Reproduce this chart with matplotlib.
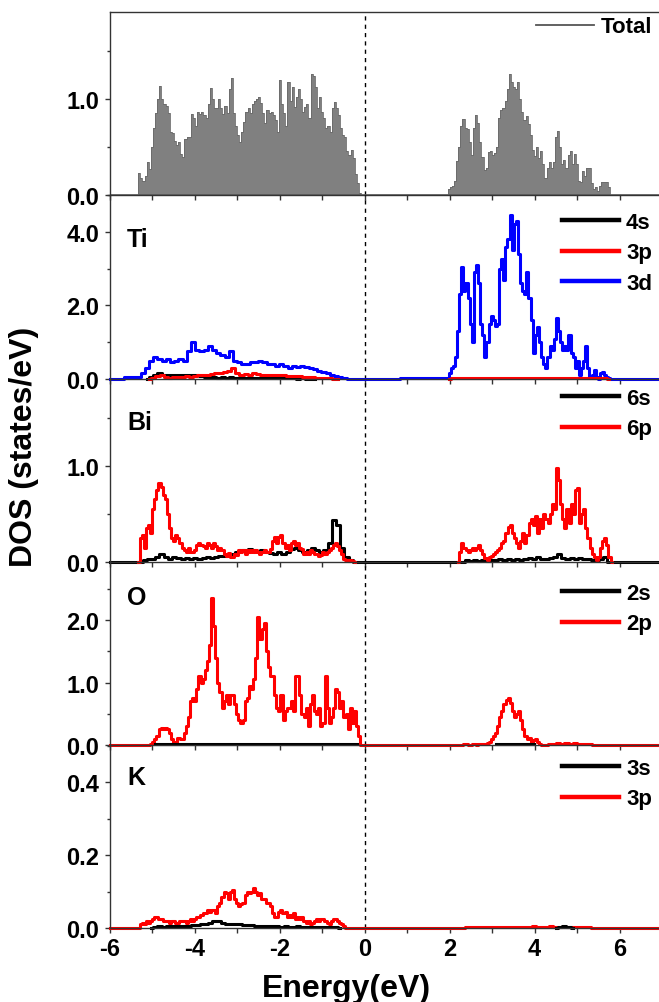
import numpy as np
import matplotlib
matplotlib.use("Agg")
import matplotlib.pyplot as plt
from matplotlib.lines import Line2D
from matplotlib.ticker import MultipleLocator, FormatStrFormatter

plt.rcParams['font.family'] = ['Liberation Sans', 'DejaVu Sans']
plt.rcParams['font.weight'] = 'bold'
plt.rcParams['axes.unicode_minus'] = False

# ---------------- data (DOS) ----------------
total_vb = [0.23,0.18,0.15,0.20,0.34,0.27,0.50,0.70,0.85,1.00,
            1.13,1.00,0.95,0.93,0.85,0.65,0.64,0.56,0.52,0.55,
            0.43,0.40,0.58,0.60,0.60,0.84,0.80,0.72,0.86,0.84,
            0.86,0.83,0.80,0.95,1.11,1.00,0.90,0.90,1.00,0.90,
            0.84,0.93,0.85,1.10,1.22,0.85,0.72,0.62,0.55,0.65,
            0.76,0.86,0.90,0.85,0.95,0.98,1.00,1.02,0.96,0.85,
            0.75,0.88,0.85,0.86,0.83,0.78,0.65,1.20,0.95,0.85,
            0.72,1.17,0.98,1.12,0.92,1.02,1.10,1.00,0.86,0.92,
            0.95,0.80,1.26,1.24,1.12,0.90,1.02,0.86,0.80,0.70,
            0.72,0.66,0.90,0.97,0.90,0.83,0.70,0.62,0.60,0.46,
            0.42,0.47,0.38,0.22,0.12,0.02]
total_cb = [0.00,0.06,0.08,0.09,0.15,0.35,0.50,0.72,0.79,0.70,
            0.69,0.55,0.42,0.70,0.83,0.75,0.55,0.40,0.26,0.28,
            0.45,0.46,0.42,0.44,0.50,0.80,0.88,0.90,0.98,1.10,
            1.26,1.18,1.12,1.10,1.17,1.00,0.86,0.78,0.82,0.74,
            0.62,0.47,0.41,0.50,0.38,0.46,0.32,0.18,0.28,0.34,
            0.28,0.34,0.60,0.67,0.50,0.32,0.36,0.28,0.42,0.46,
            0.32,0.43,0.32,0.15,0.14,0.25,0.20,0.28,0.28,0.12,
            0.06,0.08,0.04,0.09,0.13,0.13,0.13,0.08,0.00]

ti_3d_vb = [0.05,0.15,0.30,0.50,0.60,0.55,0.50,0.55,0.45,0.50,
            0.55,0.50,0.75,1.00,0.80,0.75,0.80,0.90,0.80,0.70,
            0.65,0.60,0.75,0.50,0.45,0.40,0.40,0.45,0.45,0.50,
            0.45,0.42,0.40,0.35,0.40,0.35,0.30,0.35,0.33,0.35,
            0.32,0.30,0.28,0.22,0.20,0.15,0.12,0.09,0.06,0.03,
            0.01,0.00]
ti_3d_cb = [0.02,0.15,0.30,0.35,0.60,1.30,2.30,3.05,2.40,2.60,
            2.20,1.50,1.00,2.90,3.10,2.60,1.50,1.20,0.60,1.00,
            1.50,1.70,1.60,1.45,1.50,3.00,3.25,2.70,3.60,3.80,
            4.45,3.50,4.20,4.30,3.40,2.60,2.40,2.30,2.90,2.20,
            1.60,0.70,1.20,1.40,1.00,0.60,0.40,0.30,0.60,0.90,
            0.80,1.10,1.65,1.30,1.00,0.80,0.90,0.80,1.20,0.70,
            0.60,0.30,0.50,0.10,0.30,0.50,0.90,0.30,0.05,0.10,
            0.25,0.05,0.00,0.15,0.20,0.10,0.05,0.02,0.00]
ti_4s_vb = [0.00,0.05,0.12,0.16,0.12,0.10,0.10,0.12,0.10,0.12,
            0.10,0.12,0.10,0.08,0.06,0.05,0.06,0.04,0.05,0.04,
            0.05,0.03,0.04,0.03,0.04,0.03,0.02,0.03,0.02,0.03,
            0.02,0.02,0.03,0.02,0.02,0.02,0.01,0.02,0.01,0.01,
            0.00]
ti_3p_vb = [0.00,0.03,0.08,0.10,0.05,0.04,0.05,0.06,0.06,0.08,
            0.06,0.08,0.10,0.12,0.12,0.14,0.15,0.15,0.18,0.22,
            0.30,0.15,0.12,0.14,0.12,0.15,0.14,0.12,0.12,0.10,
            0.12,0.10,0.10,0.08,0.09,0.08,0.07,0.06,0.06,0.05,
            0.04,0.03,0.02,0.02,0.01,0.00]
ti_3p_cb = [0.00,0.03,0.02,0.02,0.03,0.02,0.02,0.02,0.03,0.02,
            0.02,0.02,0.02,0.03,0.02,0.02,0.02,0.02,0.02,0.03,
            0.02,0.02,0.02,0.02,0.02,0.02,0.03,0.02,0.02,0.02,
            0.02,0.02,0.02,0.02,0.02,0.03,0.02,0.02,0.00]

bi_6p_vb = [0.00,0.25,0.28,0.15,0.35,0.38,0.30,0.55,0.65,0.75,
            0.82,0.78,0.70,0.65,0.50,0.35,0.25,0.22,0.28,0.25,
            0.20,0.15,0.12,0.10,0.15,0.10,0.10,0.12,0.18,0.20,
            0.18,0.17,0.15,0.20,0.18,0.15,0.20,0.17,0.12,0.15,
            0.12,0.08,0.06,0.09,0.05,0.05,0.08,0.07,0.12,0.10,
            0.12,0.08,0.12,0.10,0.12,0.10,0.12,0.10,0.08,0.10,
            0.12,0.10,0.10,0.14,0.22,0.26,0.20,0.26,0.28,0.20,
            0.15,0.18,0.12,0.20,0.22,0.18,0.20,0.15,0.13,0.08,
            0.10,0.08,0.12,0.10,0.08,0.08,0.06,0.07,0.10,0.08,
            0.10,0.12,0.15,0.18,0.20,0.17,0.12,0.08,0.03,0.02,
            0.01,0.02,0.01,0.00]
bi_6p_cb = [0.00,0.10,0.20,0.15,0.12,0.10,0.12,0.15,0.12,0.15,
            0.18,0.12,0.08,0.04,0.02,0.05,0.06,0.08,0.10,0.12,
            0.15,0.20,0.22,0.30,0.36,0.38,0.30,0.25,0.20,0.15,
            0.22,0.30,0.20,0.28,0.40,0.45,0.38,0.48,0.30,0.45,
            0.35,0.50,0.45,0.40,0.50,0.60,0.55,0.98,0.85,0.60,
            0.45,0.35,0.55,0.40,0.60,0.50,0.75,0.77,0.40,0.50,
            0.55,0.35,0.25,0.15,0.08,0.05,0.02,0.05,0.15,0.22,
            0.25,0.18,0.05,0.00]
bi_6s_vb = [0.00,0.02,0.03,0.03,0.05,0.08,0.05,0.03,0.05,0.04,
            0.03,0.04,0.03,0.04,0.03,0.04,0.05,0.04,0.05,0.06,
            0.06,0.07,0.08,0.10,0.12,0.12,0.13,0.12,0.11,0.12,
            0.10,0.09,0.08,0.10,0.08,0.10,0.13,0.15,0.12,0.10,
            0.12,0.15,0.12,0.10,0.12,0.20,0.44,0.38,0.15,0.05,
            0.02,0.00]
bi_6s_cb = [0.00,0.02,0.01,0.02,0.01,0.02,0.01,0.02,0.02,0.03,
            0.02,0.03,0.02,0.03,0.02,0.03,0.04,0.03,0.05,0.03,
            0.03,0.04,0.05,0.08,0.04,0.03,0.04,0.03,0.04,0.03,
            0.03,0.02,0.02,0.03,0.05,0.00]

o_2p_vb = [0.00,0.02,0.05,0.10,0.15,0.25,0.28,0.26,0.27,0.25,
           0.20,0.10,0.05,0.05,0.12,0.10,0.10,0.20,0.30,0.45,
           0.70,0.75,0.70,0.90,1.10,1.00,1.05,1.20,1.35,1.60,
           2.35,1.90,1.40,1.00,0.85,0.60,0.70,0.80,0.65,0.80,
           0.80,0.65,0.50,0.40,0.35,0.40,0.70,0.75,0.95,0.90,
           1.05,1.40,2.05,1.70,1.85,1.95,1.50,1.25,1.10,1.10,
           0.80,0.60,0.55,0.80,0.40,0.55,0.60,0.60,0.70,0.55,
           1.10,1.10,0.80,0.50,0.45,0.60,0.30,0.65,0.80,0.55,
           0.50,0.60,0.30,0.35,1.10,0.60,0.35,0.45,0.60,0.90,
           0.85,0.60,0.70,0.45,0.50,0.25,0.60,0.35,0.55,0.30,
           0.15,0.00]
o_2p_cb = [0.00,0.01,0.01,0.00,0.00,0.01,0.01,0.00,0.01,0.02,
           0.02,0.02,0.03,0.05,0.10,0.15,0.20,0.30,0.45,0.55,
           0.65,0.72,0.75,0.68,0.55,0.45,0.50,0.55,0.40,0.25,
           0.15,0.10,0.12,0.05,0.08,0.10,0.05,0.02,0.00,0.00,
           0.00,0.01,0.01,0.02,0.02,0.03,0.03,0.02,0.02,0.03,
           0.03,0.02,0.02,0.03,0.03,0.02,0.01,0.02,0.02,0.02,
           0.02,0.01,0.00]
o_2s_vb = [0.01,0.01,0.01,0.01,0.01,0.01,0.01,0.01,0.01,0.01,
           0.01,0.01,0.01,0.01,0.01,0.01,0.01,0.01,0.01,0.01,
           0.01,0.01,0.01,0.01,0.01,0.01,0.01,0.01,0.01,0.01,
           0.01,0.01,0.01,0.01,0.01,0.01,0.01,0.01,0.01,0.01,
           0.01,0.01,0.01,0.01,0.01,0.01,0.01,0.01,0.01]
o_2s_cb = [0.01,0.01,0.01,0.01,0.01,0.01,0.01,0.01,0.01,0.01]

k_3p_vb = [0.000,0.010,0.015,0.010,0.020,0.015,0.020,0.025,0.030,0.030,
           0.025,0.025,0.020,0.020,0.020,0.015,0.020,0.020,0.015,0.015,
           0.020,0.020,0.020,0.015,0.020,0.025,0.020,0.025,0.030,0.030,
           0.035,0.040,0.040,0.050,0.045,0.050,0.050,0.040,0.060,0.070,
           0.085,0.100,0.095,0.080,0.100,0.105,0.080,0.070,0.060,0.065,
           0.070,0.090,0.100,0.095,0.100,0.110,0.100,0.090,0.095,0.080,
           0.080,0.070,0.070,0.060,0.040,0.030,0.030,0.045,0.050,0.040,
           0.045,0.030,0.035,0.030,0.040,0.025,0.030,0.025,0.030,0.020,
           0.015,0.020,0.010,0.015,0.020,0.025,0.020,0.025,0.025,0.020,
           0.015,0.010,0.020,0.025,0.025,0.020,0.015,0.010,0.005,0.000]
k_3p_cb = [0.000,0.003,0.002,0.003,0.002,0.003,0.002,0.003,0.003,0.002,
           0.003,0.003,0.002,0.003,0.004,0.003,0.004,0.005,0.004,0.003,
           0.004,0.006,0.004,0.003,0.004,0.003,0.003,0.002,0.003,0.002,
           0.002,0.000]
k_3s_vb = [0.000,0.004,0.005,0.004,0.005,0.006,0.005,0.006,0.005,0.006,
           0.007,0.008,0.010,0.012,0.015,0.018,0.020,0.015,0.012,0.010,
           0.012,0.010,0.008,0.008,0.007,0.006,0.006,0.005,0.006,0.005,
           0.005,0.004,0.005,0.004,0.004,0.005,0.004,0.004,0.003,0.004,
           0.003,0.004,0.003,0.003,0.002,0.000]
k_3s_cb = [0.000,0.004,0.006,0.004,0.000]

# segment definitions: (start energy eV, energy step eV, values)
panels = [
    dict(name=None, ylim=1.9, major=1.0, minor=0.5,
         series=[("Total", "#7f7f7f", [(-5.31, 0.0495, total_vb), (1.93, 0.0495, total_cb)])]),
    dict(name="Ti", ylim=5.0, major=2.0, minor=1.0,
         series=[("3d", "#0000ff", [(-5.33, 0.099, ti_3d_vb), (1.95, 0.0495, ti_3d_cb)]),
                 ("4s", "#000000", [(-5.13, 0.099, ti_4s_vb)]),
                 ("3p", "#ff0000", [(-5.08, 0.099, ti_3p_vb), (1.99, 0.099, ti_3p_cb)])],
         legend=["4s", "3p", "3d"]),
    dict(name="Bi", ylim=1.9, major=1.0, minor=0.5,
         series=[("6s", "#000000", [(-5.28, 0.099, bi_6s_vb), (2.30, 0.099, bi_6s_cb)]),
                 ("6p", "#ff0000", [(-5.33, 0.0495, bi_6p_vb), (2.20, 0.0495, bi_6p_cb)])],
         legend=["6s", "6p"]),
    dict(name="O", ylim=2.93, major=1.0, minor=0.5,
         series=[("2p", "#ff0000", [(-5.08, 0.0495, o_2p_vb), (2.30, 0.0495, o_2p_cb)]),
                 ("2s", "#000000", [(-4.93, 0.099, o_2s_vb), (3.09, 0.099, o_2s_cb)])],
         legend=["2s", "2p"]),
    dict(name="K", ylim=0.503, major=0.2, minor=0.1,
         series=[("3p", "#ff0000", [(-5.33, 0.0495, k_3p_vb), (2.30, 0.099, k_3p_cb)]),
                 ("3s", "#000000", [(-5.03, 0.099, k_3s_vb), (4.50, 0.099, k_3s_cb)])],
         legend=["3s", "3p"]),
]

XMIN, XMAX = -6.0, 7.0

def full_series(segs):
    xs, ys = [XMIN], [0.0]
    for start, step, vals in segs:
        xs.extend(start + step * np.arange(len(vals)))
        ys.extend(vals)
    xs.append(XMAX); ys.append(0.0)
    return np.array(xs), np.array(ys)

def padded(seg):
    start, step, vals = seg
    n = len(vals)
    x = start + step * np.arange(-1, n + 1)
    y = np.concatenate([[0.0], vals, [0.0]])
    return x, y

# ---------------- layout ----------------
W, H = 659, 1003
fig = plt.figure(figsize=(W / 100, H / 100), dpi=100)
left_px, right_px = 110, 662
edges_px = [13.3, 196, 380, 563, 746, 929]
legend_first_row = [15, 28, 20, 32, 24]   # px below panel top
label_off = [None, 44, 43, 35, 32]
spine_col = "#333333"
LW = 2.2

for i, p in enumerate(panels):
    top, bot = edges_px[i], edges_px[i + 1]
    ax = fig.add_axes([left_px / W, 1 - bot / H, (right_px - left_px) / W, (bot - top) / H])
    ax.patch.set_visible(False)
    ax.set_xlim(XMIN, XMAX)
    ax.set_ylim(0, p["ylim"])

    if i == 0:
        ax.plot([XMIN, XMAX], [0, 0], color="#5f5f5f", lw=1.2)
        for seg in p["series"][0][2]:
            x, y = padded(seg)
            ax.fill_between(x, 0, y, step="mid", color="#808080", lw=0)
            ax.plot(x, y, drawstyle="steps-mid", color="#6a6a6a", lw=0.6)
        h = [Line2D([], [], color="#555555", lw=1.3)]
        labs = ["Total"]
    else:
        first = True
        for lab, col, segs in p["series"]:
            if first:
                x, y = full_series(segs)
                ax.plot(x, y, color=col, lw=LW, clip_on=False, drawstyle="steps-mid")
                first = False
            else:
                for start, step, vals in segs:
                    xx = start + step * np.arange(len(vals))
                    ax.plot(xx, vals, color=col, lw=LW, clip_on=False, drawstyle="steps-mid")
        cols = {lab: col for lab, col, _ in p["series"]}
        labs = p["legend"]
        h = [Line2D([], [], color=cols[l], lw=3.2) for l in labs]

    ax_h = edges_px[i + 1] - edges_px[i]
    leg = ax.legend(h, labs, loc="upper right",
                    bbox_to_anchor=((652 - left_px) / (right_px - left_px),
                                    1 - (legend_first_row[i] - 11) / ax_h),
                    frameon=False, fontsize=16, handlelength=2.6,
                    handletextpad=0.3, labelspacing=0.42,
                    borderaxespad=0, borderpad=0)
    for t in leg.get_texts():
        t.set_fontweight("bold")

    if p["name"]:
        ax.text((127 - left_px) / (right_px - left_px), 1 - label_off[i] / ax_h, p["name"],
                transform=ax.transAxes, fontsize=18, fontweight="bold",
                ha="left", va="center")

    ax.axvline(0, color="black", lw=1.0, ls=(0, (3, 3)), zorder=0)

    ax.xaxis.set_major_locator(MultipleLocator(2))
    ax.xaxis.set_minor_locator(MultipleLocator(1))
    ax.yaxis.set_major_locator(MultipleLocator(p["major"]))
    ax.yaxis.set_minor_locator(MultipleLocator(p["minor"]))
    ax.yaxis.set_major_formatter(FormatStrFormatter("%.1f"))
    ax.tick_params(axis="x", which="both", direction="out", length=3.6, width=1,
                   color=spine_col, labelbottom=(i == len(panels) - 1),
                   labelsize=17, pad=3)
    ax.tick_params(axis="y", which="major", direction="out", length=3.6, width=1,
                   color=spine_col, labelsize=17, pad=4)
    ax.tick_params(axis="y", which="minor", direction="out", length=2, width=1,
                   color=spine_col)
    for lab in ax.get_xticklabels() + ax.get_yticklabels():
        lab.set_fontweight("bold")
    ax.spines["right"].set_visible(False)
    ax.spines["top"].set_visible(i == 0)
    for s in ("left", "bottom", "top"):
        ax.spines[s].set_color(spine_col)
        ax.spines[s].set_linewidth(1.0)

fig.text(24 / W, 1 - 447 / H, "DOS (states/eV)", rotation=90, fontsize=23,
         fontweight="bold", ha="center", va="center")
fig.text(346 / W, 1 - 997 / H, "Energy(eV)", fontsize=23, fontweight="bold",
         ha="center", va="baseline")

fig.savefig("out.png", dpi=100)
